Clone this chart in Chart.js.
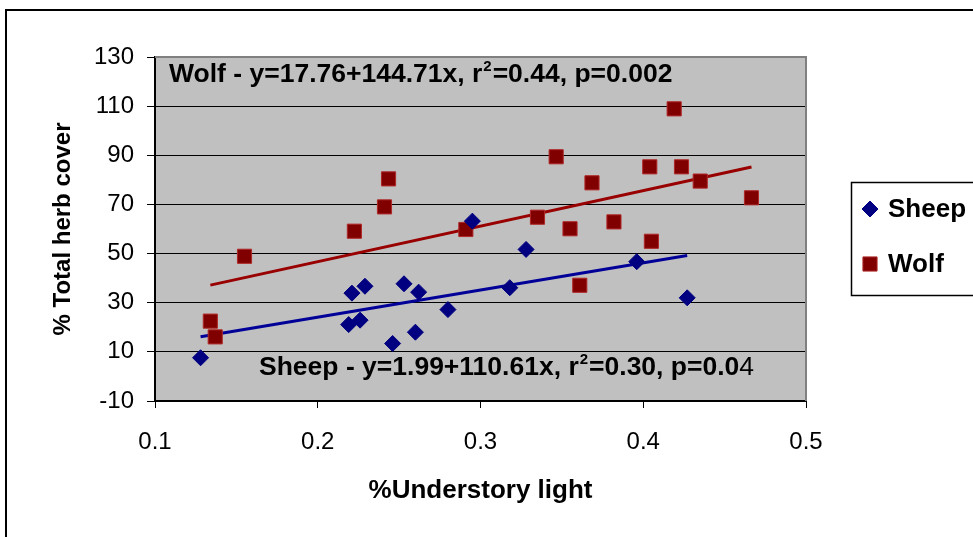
<!DOCTYPE html>
<html>
<head>
<meta charset="utf-8">
<title>% Total herb cover vs %Understory light</title>
<script src="https://cdn.jsdelivr.net/npm/chart.js@4.4.1/dist/chart.umd.min.js"></script>
<style>
  html, body { margin: 0; padding: 0; background: #fff; }
  canvas { display: block; }
</style>
</head>
<body>
<canvas id="chartContainer" width="973" height="537"></canvas>
<script>
// values
const sheepX = [0.128, 0.219, 0.221, 0.226, 0.229, 0.246, 0.253, 0.260, 0.262, 0.280, 0.295, 0.318, 0.328, 0.396, 0.427];
const sheepY = [7.6, 21.1, 33.9, 22.9, 36.7, 13.4, 37.7, 18.0, 34.3, 27.2, 63.2, 36.1, 51.7, 46.7, 32.0];
const wolfX = [0.134, 0.137, 0.155, 0.2225, 0.241, 0.2435, 0.291, 0.335, 0.3465, 0.355, 0.361, 0.3685, 0.382, 0.404, 0.405, 0.419, 0.4235, 0.435, 0.4665];
const wolfY = [22.5, 16.1, 48.9, 59.1, 69.0, 80.4, 59.8, 64.8, 89.4, 60.1, 37.1, 78.8, 62.9, 85.3, 55.0, 108.9, 85.3, 79.5, 72.7];

// regression lines as printed on the chart: [intercept, slope]
const sheepFit = [1.99, 110.61];
const wolfFit = [17.76, 144.71];

const xTicks = [0.1, 0.2, 0.3, 0.4, 0.5];
const yTicks = [-10, 10, 30, 50, 70, 90, 110, 130];
const seriesNames = ["Sheep", "Wolf"];
const xTitle = "%Understory light";
const yTitle = "% Total herb cover";
const wolfNote = ["Wolf - y=17.76+144.71x, r", "2", "=0.44, p=0.002", ""];
const sheepNote = ["Sheep - y=1.99+110.61x, r", "2", "=0.30, p=0.0", "4"];

const FONT = '"Liberation Sans", Arial, sans-serif';
const SHEEP_COLOR = "#000080";
const WOLF_COLOR = "#800000";

function toPoints(xs, ys) {
    return xs.map((x, i) => ({ x: x, y: ys[i] }));
}

function fitLine(xs, fit) {
    const lo = Math.min(...xs);
    const hi = Math.max(...xs);
    return [lo, hi].map(x => ({ x: x, y: fit[0] + fit[1] * x }));
}

function drawNote(ctx, parts, x, y) {
    ctx.save();
    ctx.fillStyle = "#000";
    ctx.textBaseline = "middle";
    ctx.textAlign = "left";
    ctx.font = "bold 26.5px " + FONT;
    ctx.fillText(parts[0], x, y);
    x += ctx.measureText(parts[0]).width + 1;
    ctx.font = "bold 15px " + FONT;
    ctx.fillText(parts[1], x, y - 8);
    x += ctx.measureText(parts[1]).width + 1;
    ctx.font = "bold 26.5px " + FONT;
    ctx.fillText(parts[2], x, y);
    x += ctx.measureText(parts[2]).width;
    ctx.font = "26.5px " + FONT;
    ctx.fillText(parts[3], x, y);
    ctx.restore();
}

const plotFrame = {
    id: "plotFrame",
    beforeDraw(chart) {
        const { ctx, chartArea: a } = chart;
        ctx.save();
        ctx.fillStyle = "#c0c0c0";
        ctx.fillRect(a.left, a.top, a.right - a.left, a.bottom - a.top);
        ctx.restore();
    },
    beforeDatasetsDraw(chart) {
        const { ctx, chartArea: a } = chart;
        ctx.save();
        ctx.strokeStyle = "#808080";
        ctx.lineWidth = 2;
        ctx.beginPath();
        ctx.moveTo(a.left, a.top);
        ctx.lineTo(a.right, a.top);
        ctx.lineTo(a.right, a.bottom);
        ctx.stroke();
        ctx.restore();
    },
    afterDraw(chart) {
        const { ctx, chartArea: a } = chart;
        // equations inside the plot
        drawNote(ctx, wolfNote, a.left + 14, a.top + 18);
        drawNote(ctx, sheepNote, a.left + 104, a.bottom - 33);

        // outer chart border, cut off at right and bottom
        ctx.save();
        ctx.strokeStyle = "#000";
        ctx.lineWidth = 2;
        ctx.beginPath();
        ctx.moveTo(6, 540);
        ctx.lineTo(6, 10);
        ctx.lineTo(980, 10);
        ctx.stroke();

        // legend box
        ctx.lineWidth = 1.5;
        ctx.strokeRect(851.5, 182.5, 200, 113);
        const rows = [209, 264];
        chart.data.datasets.slice(0, 2).forEach((ds, i) => {
            ctx.fillStyle = ds.backgroundColor;
            ctx.strokeStyle = ds.borderColor;
            ctx.lineWidth = ds.borderWidth;
            Chart.helpers.drawPoint(ctx, {
                pointStyle: ds.pointStyle,
                radius: ds.pointRadius,
                rotation: 0,
                borderWidth: ds.borderWidth
            }, 870, rows[i]);
            ctx.fillStyle = "#000";
            ctx.font = "bold 26px " + FONT;
            ctx.textBaseline = "middle";
            ctx.fillText(ds.label, 888, rows[i] + 1);
        });
        ctx.restore();
    }
};

const ctx = document.getElementById("chartContainer");
const chart = new Chart(ctx, {
    type: "scatter",
    data: {
        datasets: [
            {
                label: seriesNames[0],
                data: toPoints(sheepX, sheepY),
                pointStyle: "rectRot",
                pointRadius: 8,
                backgroundColor: SHEEP_COLOR,
                borderColor: SHEEP_COLOR,
                borderWidth: 1,
                order: 1,
            },
            {
                label: seriesNames[1],
                data: toPoints(wolfX, wolfY),
                pointStyle: "rect",
                pointRadius: 10,
                backgroundColor: WOLF_COLOR,
                borderColor: "#b02828",
                borderWidth: 1,
                order: 1,
            },
            {
                label: "Sheep fit",
                data: fitLine(sheepX, sheepFit),
                showLine: true,
                pointRadius: 0,
                borderColor: "#000099",
                borderWidth: 3,
                order: 2,
            },
            {
                label: "Wolf fit",
                data: fitLine(wolfX, wolfFit),
                showLine: true,
                pointRadius: 0,
                borderColor: "#990000",
                borderWidth: 3,
                order: 2,
            },
        ],
    },
    options: {
        responsive: false,
        animation: false,
        devicePixelRatio: 1,
        layout: { padding: { left: 0, top: 57, right: 167, bottom: 0 } },
        plugins: {
            legend: { display: false },
            tooltip: { enabled: false },
        },
        scales: {
            x: {
                type: "linear",
                min: 0.1,
                max: 0.5,
                afterFit: s => { s.height = 136; },
                afterBuildTicks: s => { s.ticks = xTicks.map(v => ({ value: v })); },
                ticks: {
                    color: "#000",
                    font: { family: FONT, size: 24 },
                    padding: 20,
                    callback: v => v.toFixed(1),
                },
                grid: {
                    drawOnChartArea: false,
                    drawTicks: true,
                    tickLength: 7,
                    color: "#000",
                },
                border: { color: "#000", width: 2 },
                title: {
                    display: true,
                    text: xTitle,
                    color: "#000",
                    font: { family: FONT, size: 26, weight: "bold" },
                    padding: { top: 0, bottom: 31 },
                },
            },
            y: {
                min: -10,
                max: 130,
                afterFit: s => { s.width = 155; },
                afterBuildTicks: s => { s.ticks = yTicks.map(v => ({ value: v })); },
                ticks: {
                    color: "#000",
                    font: { family: FONT, size: 24 },
                    padding: 13,
                },
                grid: {
                    color: "#000",
                    lineWidth: 1,
                    tickLength: 8,
                },
                border: { color: "#000", width: 2 },
                title: {
                    display: true,
                    text: yTitle,
                    color: "#000",
                    font: { family: FONT, size: 24, weight: "bold" },
                    padding: { top: 49, bottom: 0 },
                },
            },
        },
    },
    plugins: [plotFrame],
});
</script>
</body>
</html>
